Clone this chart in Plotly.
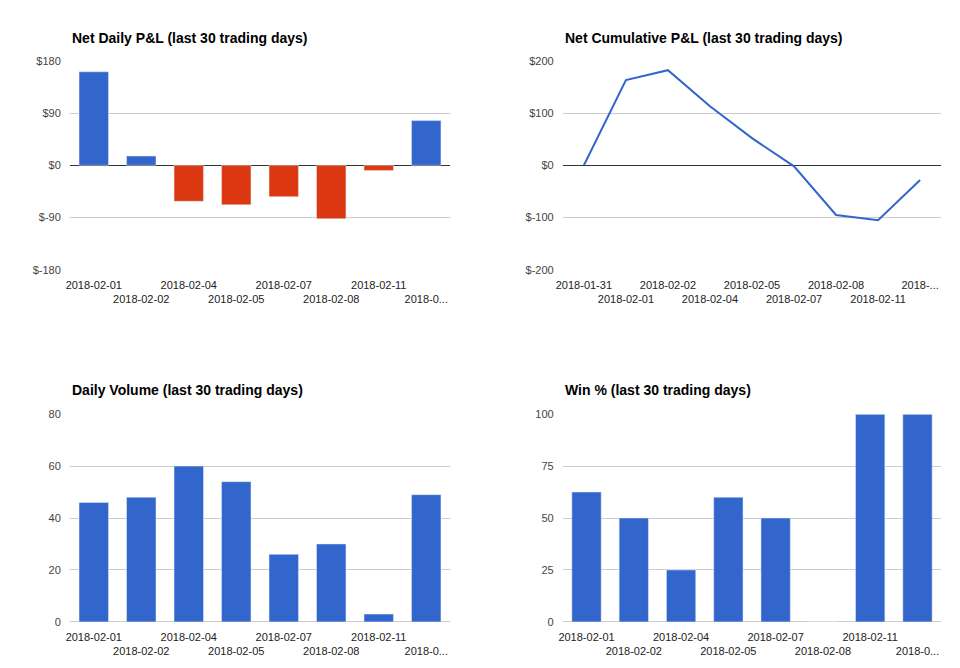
import plotly.graph_objects as go

days = ["2018-02-01", "2018-02-02", "2018-02-04", "2018-02-05",
        "2018-02-07", "2018-02-08", "2018-02-11", "2018-02-12"]
cum_days = ["2018-01-31"] + days
daily_pnl = [161, 16, -62, -68, -54, -92, -9, 77]
cum_pnl = [0, 163, 182, 113, 52, -2, -95, -105, -28]
volume = [46, 48, 60, 54, 26, 30, 3, 49]
win_pct = [62.5, 50, 25, 60, 50, 0, 100, 100]

BLUE = "#3366cc"
RED = "#dc3912"
FONT = "Liberation Sans, Arial, sans-serif"


def stagger(labels):
    out = []
    for i, s in enumerate(labels):
        if i == len(labels) - 1:
            s = s[:6] + "..." if i % 2 else s[:5] + "..."
        out.append(s if i % 2 == 0 else "<br>" + s)
    return out


fig = go.Figure()
fig.add_trace(go.Bar(x=days, y=daily_pnl, xaxis="x", yaxis="y", width=0.62,
                     marker_color=[BLUE if v >= 0 else RED for v in daily_pnl]))
fig.add_trace(go.Scatter(x=cum_days, y=cum_pnl, xaxis="x2", yaxis="y2", mode="lines",
                         line=dict(color=BLUE, width=2)))
fig.add_trace(go.Bar(x=days, y=volume, xaxis="x3", yaxis="y3", width=0.62, marker_color=BLUE))
fig.add_trace(go.Bar(x=days, y=win_pct, xaxis="x4", yaxis="y4", width=0.62, marker_color=BLUE))

xdom = [[0.0646, 0.4604], [0.578, 0.972]]
ydom = [[0.608, 0.921], [0.081, 0.392]]
ax = dict(showgrid=False, ticks="outside", ticklen=5, tickcolor="white",
          tickfont=dict(size=11, color="#222"), fixedrange=True, automargin=False,
          showline=False, zeroline=False, type="category")
gy = dict(gridcolor="#cccccc", zeroline=True, zerolinecolor="#333", zerolinewidth=1,
          tickfont=dict(size=11, color="#444"), ticks="outside", ticklen=6, tickcolor="white",
          showline=False, automargin=False)

lay = {}
specs = [(days, xdom[0], ydom[0]), (cum_days, xdom[1], ydom[0]),
         (days, xdom[0], ydom[1]), (days, xdom[1], ydom[1])]
for i, (cats, xd, yd) in enumerate(specs):
    n = "" if i == 0 else str(i + 1)
    lay["xaxis" + n] = dict(ax, domain=xd, anchor="y" + n, tickvals=cats, ticktext=stagger(cats),
                            range=[-0.5, len(cats) - 0.5], tickangle=0)
    lay["yaxis" + n] = dict(gy, domain=yd, anchor="x" + n)

lay["yaxis"].update(range=[-180, 180], tickvals=[-180, -90, 0, 90, 180],
                    ticktext=["$-180", "$-90", "$0", "$90", "$180"])
lay["yaxis2"].update(range=[-200, 200], tickvals=[-200, -100, 0, 100, 200],
                     ticktext=["$-200", "$-100", "$0", "$100", "$200"])
lay["yaxis3"].update(range=[0, 80], tickvals=[0, 20, 40, 60, 80], zerolinecolor="#cccccc")
lay["yaxis4"].update(range=[0, 100], tickvals=[0, 25, 50, 75, 100], zerolinecolor="#cccccc")

titles = [("Net Daily P&L (last 30 trading days)", 0.0646, 0.955),
          ("Net Cumulative P&L (last 30 trading days)", 0.578, 0.955),
          ("Daily Volume (last 30 trading days)", 0.0646, 0.428),
          ("Win % (last 30 trading days)", 0.578, 0.428)]
ann = [dict(text="<b>%s</b>" % t, x=x, y=y, xref="paper", yref="paper", xanchor="left",
            yanchor="middle", showarrow=False, font=dict(size=14, color="#000", family=FONT))
       for t, x, y in titles]

fig.update_layout(width=960, height=668, margin=dict(l=0, r=0, t=0, b=0, autoexpand=False),
                  showlegend=False, plot_bgcolor="white", paper_bgcolor="white",
                  font=dict(family=FONT), annotations=ann, bargap=0.38, **lay)
fig.write_html("out.html")
